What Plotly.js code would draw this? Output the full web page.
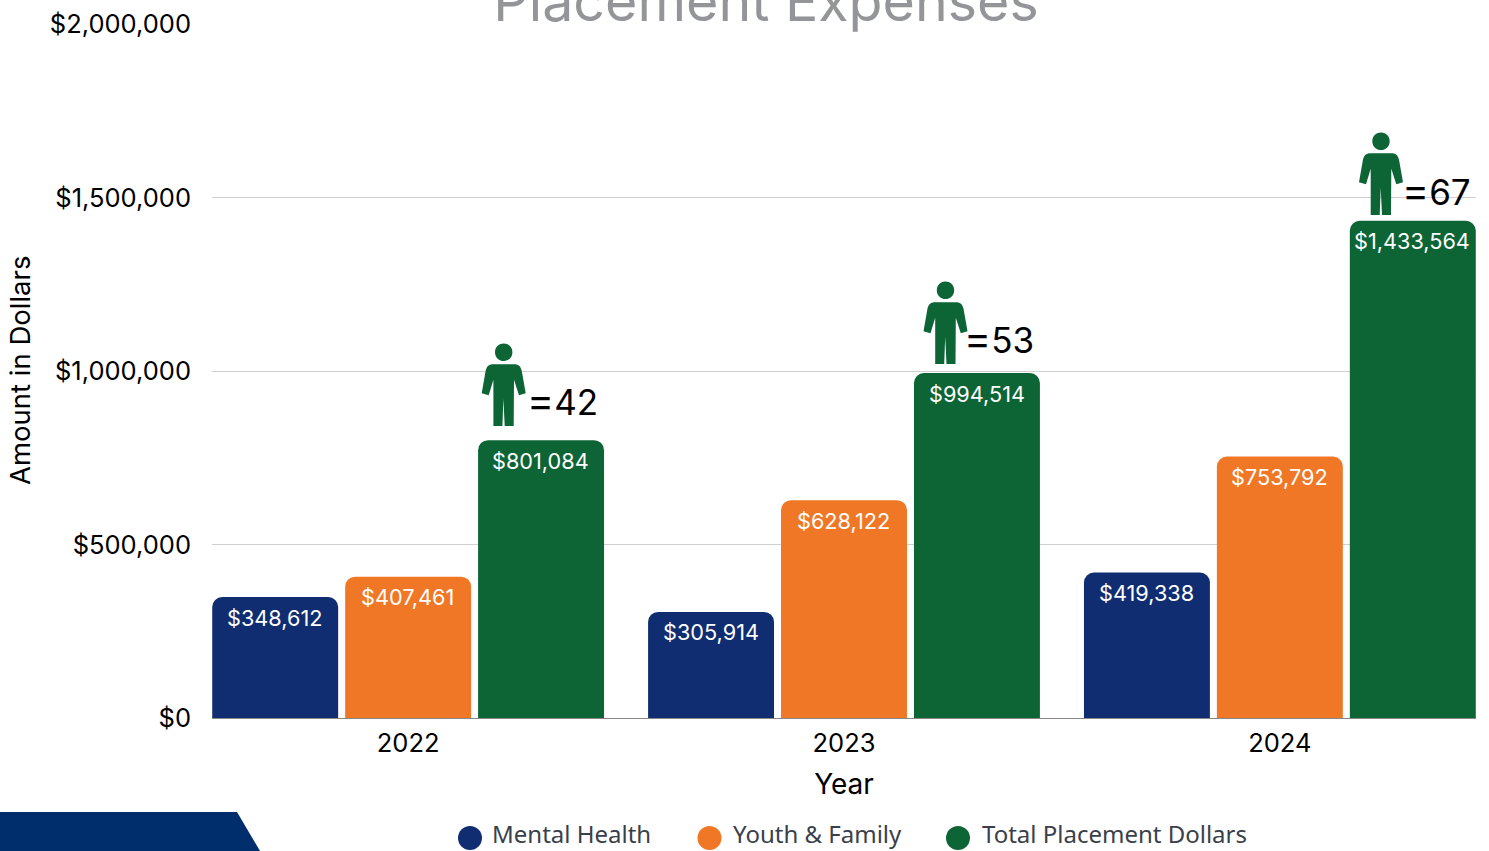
<!DOCTYPE html>
<html><head><meta charset="utf-8">
<script src="https://cdn.plot.ly/plotly-3.0.1.min.js"></script>
<style>html,body{margin:0;padding:0;background:#fff;overflow:hidden}#c{width:1489px;height:851px}</style>
</head><body><div id="c"></div>
<script>
const years = ['2022', '2023', '2024'];
const mentalHealth = [348612, 305914, 419338];
const youthFamily = [407461, 628122, 753792];
const totalPlacement = [801084, 994514, 1433564];
const placementCounts = [42, 53, 67];
const seriesNames = ['Mental Health', 'Youth & Family', 'Total Placement Dollars'];
const seriesColors = ['#0F2D70', '#F07726', '#0D6435'];
const yTickVals = [0, 500000, 1000000, 1500000, 2000000];
const yTickText = ['$0', '$500,000', '$1,000,000', '$1,500,000', '$2,000,000'];

const W = 1489, H = 851, L = 212, R = 1476, T = 24, B = 718;
const FONT = 'Inter, "Open Sans", sans-serif';
const px = x => (x - L) / (R - L);
const py = y => (B - y) / (B - T);
const money = v => '$' + v.toLocaleString('en-US');

const all = [mentalHealth, youthFamily, totalPlacement];
const data = all.map((vals, i) => ({
  type: 'bar', name: seriesNames[i], x: years, y: vals,
  marker: {color: seriesColors[i], cornerradius: 10, line: {width: 0}},
  hoverinfo: 'x+y+name', showlegend: false
}));

const annotations = [];
const shapes = [];
all.forEach((vals, s) => vals.forEach((v, c) => annotations.push({
  x: c, y: v, xref: 'x', yref: 'y', xshift: (s - 1) * 133 - 0.5, yshift: -20.5,
  yanchor: 'middle', xanchor: 'center', showarrow: false, text: money(v),
  font: {family: FONT, size: 21.7, color: '#fff'}
})));

// person pictogram, in pixels relative to its foot point
const personPath = (() => {
  const p = (x, y) => ((x - 191) / 3).toFixed(1) + ',' + ((287 - y) / 3).toFixed(1);
  return 'M' + p(155, 102) + ' C' + p(142, 104) + ' ' + p(138, 114) + ' ' + p(136, 126) +
    ' L' + p(125, 189) + ' L' + p(146, 195) + ' L' + p(160, 148) + ' L' + p(160, 287) +
    ' L' + p(187, 287) + ' L' + p(190, 205) + ' L' + p(194, 287) + ' L' + p(221, 287) +
    ' L' + p(222, 148) + ' L' + p(237, 195) + ' L' + p(257, 189) + ' L' + p(246, 126) +
    ' C' + p(244, 114) + ' ' + p(240, 104) + ' ' + p(227, 102) + ' Z' +
    ' M' + p(165, 66) + ' C' + p(165, 31) + ' ' + p(217, 31) + ' ' + p(217, 66) +
    ' C' + p(217, 101) + ' ' + p(165, 101) + ' ' + p(165, 66) + ' Z';
})();
const iconFootX = [503.7, 945.5, 1381];
const iconFootY = [426, 364, 215];
const countLabelX = [525, 962, 1400];
const countLabelY = [400, 338, 190];

placementCounts.forEach((n, i) => {
  shapes.push({type: 'path', layer: 'above', xref: 'paper', yref: 'paper',
    xsizemode: 'pixel', ysizemode: 'pixel', xanchor: px(iconFootX[i]), yanchor: py(iconFootY[i]),
    path: personPath, fillcolor: seriesColors[2], line: {width: 0}});
  annotations.push({xref: 'paper', yref: 'paper', x: px(countLabelX[i]), y: py(countLabelY[i]),
    xanchor: 'left', yanchor: 'middle', showarrow: false,
    text: '<span style="font-size:41px">=</span>' + n,
    font: {family: FONT, size: 35, color: '#000'}});
});

// footer band
shapes.push({type: 'path', layer: 'above', xref: 'paper', yref: 'paper',
  path: 'M' + px(0) + ',' + py(812) + ' L' + px(237) + ',' + py(812) + ' L' + px(260) + ',' + py(851) +
    ' L' + px(0) + ',' + py(851) + ' Z',
  fillcolor: '#002D6C', line: {width: 0}});

// key
const keyDotX = [470, 709.5, 958];
const keyTextX = [490, 731, 979.5];
seriesNames.forEach((name, i) => {
  shapes.push({type: 'circle', xref: 'paper', yref: 'paper',
    x0: px(keyDotX[i] - 12), x1: px(keyDotX[i] + 12), y0: py(850), y1: py(826),
    fillcolor: seriesColors[i], line: {width: 0}});
  annotations.push({xref: 'paper', yref: 'paper', x: px(keyTextX[i]), y: py(833.6),
    xanchor: 'left', yanchor: 'middle', showarrow: false, text: name,
    font: {family: '"Noto Sans", sans-serif', size: 24, color: '#3A3F4A'}});
});

// value-axis title, placed by pixel
annotations.push({xref: 'paper', yref: 'paper', x: px(20), y: py(371), textangle: -90,
  xanchor: 'center', yanchor: 'middle', showarrow: false, text: 'Amount in Dollars',
  font: {family: FONT, size: 27.5, color: '#000'}});

const layout = {
  width: W, height: H, paper_bgcolor: '#fff', plot_bgcolor: '#fff',
  margin: {l: L, r: W - R, t: T, b: H - B, pad: 0},
  barmode: 'group', bargap: 0.085, bargroupgap: 0.0526,
  title: {text: 'Placement Expenses', x: 766 / W, xanchor: 'center', y: 1 - 21 / H, yanchor: 'bottom',
    font: {family: FONT, size: 55.5, color: '#939598'}},
  xaxis: {type: 'category', range: [-0.45, 2.45], tickvals: years, showgrid: false,
    tickfont: {family: FONT, size: 25.5, color: '#000'}, ticks: '', ticklabelstandoff: 2,
    showline: true, linecolor: '#888', linewidth: 1,
    title: {text: 'Year', standoff: 17, font: {family: FONT, size: 28, color: '#000'}}},
  yaxis: {range: [0, 2001000], tickvals: yTickVals, ticktext: yTickText, showgrid: true,
    gridcolor: '#CFCFCF', gridwidth: 1, zeroline: false,
    tickfont: {family: FONT, size: 25.5, color: '#000'}, ticks: '', ticklabelstandoff: 20},
  annotations, shapes, showlegend: false
};
Plotly.newPlot('c', data, layout, {displayModeBar: false, responsive: false});
</script></body></html>
